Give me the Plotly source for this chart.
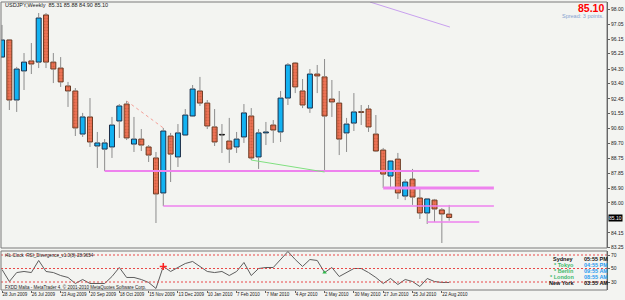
import plotly.graph_objects as go
import pandas as pd

# ---------------- data ----------------
weeks = [d.strftime('%-d %b %Y') for d in pd.date_range('2009-06-28', periods=62, freq='7D')]

opens = [95.04, 96.10, 92.38, 94.18, 94.80, 94.73, 97.65, 94.73, 94.36, 93.25,
         92.94, 90.27, 91.33, 89.53, 89.34, 89.47, 91.08, 92.13, 89.65, 89.96,
         89.47, 88.79, 86.62, 90.15, 88.85, 90.21, 91.39, 92.94, 92.19, 90.71,
         90.21, 89.84, 89.47, 90.09, 91.39, 88.85, 90.34, 90.83, 90.40, 92.50,
         94.67, 92.94, 91.88, 93.99, 93.81, 92.44, 92.19, 90.34, 90.95, 91.64,
         91.82, 90.27, 89.28, 87.67, 88.72, 86.43, 87.48, 86.31, 85.38, 86.18,
         85.57, 85.31]
highs = [97.03, 96.15, 94.43, 95.29, 95.91, 97.77, 97.77, 95.29, 95.04, 93.50,
         93.12, 91.58, 92.50, 90.40, 89.96, 91.33, 92.13, 92.32, 91.33, 90.58,
         89.59, 89.16, 90.65, 90.34, 90.89, 91.82, 93.31, 93.81, 92.38, 91.82,
         90.89, 91.27, 90.40, 92.13, 91.88, 90.58, 91.02, 91.14, 92.94, 94.67,
         94.73, 93.68, 94.30, 94.55, 94.92, 93.62, 92.94, 91.27, 92.81, 92.07,
         92.07, 91.45, 89.41, 88.66, 89.10, 87.48, 88.11, 86.87, 86.31, 86.25,
         85.69, 85.88]
lows = [94.98, 91.76, 91.64, 93.00, 93.99, 94.36, 94.36, 93.43, 93.19, 91.95,
        90.15, 90.09, 89.47, 88.17, 87.98, 88.79, 90.03, 89.90, 89.16, 89.22,
        88.54, 84.76, 85.81, 87.30, 88.23, 90.15, 91.33, 92.01, 90.58, 89.53,
        89.10, 88.48, 89.10, 89.72, 88.66, 88.11, 89.59, 89.72, 89.78, 92.07,
        92.81, 91.88, 91.58, 92.81, 87.92, 91.33, 88.97, 89.16, 90.46, 90.83,
        90.40, 89.16, 86.93, 86.93, 86.25, 86.18, 85.88, 85.01, 84.70, 84.82,
        83.52, 84.90]
closes = [96.10, 92.38, 94.30, 94.73, 94.61, 97.46, 94.73, 94.30, 93.50, 92.94,
          90.65, 91.33, 89.78, 89.72, 89.72, 90.83, 92.01, 90.03, 89.96, 89.59,
          88.97, 86.56, 90.46, 89.03, 90.34, 91.45, 93.06, 92.19, 90.77, 89.78,
          90.21, 89.34, 89.96, 91.58, 88.79, 90.34, 90.40, 90.52, 92.50, 94.55,
          93.19, 92.07, 93.99, 93.87, 91.39, 92.26, 89.96, 90.89, 91.64, 91.61,
          90.71, 89.22, 87.79, 88.60, 86.62, 87.30, 86.37, 85.38, 86.25, 85.63,
          85.32, 85.10]

rsi = [48.5, 30.7, 44.0, 45.6, 44.0, 61.9, 45.6, 44.0, 39.6, 36.7,
       27.8, 33.7, 27.8, 27.8, 27.8, 38.1, 51.5, 36.7, 36.7, 33.7,
       29.3, 20.4, 53.0, 45.6, 51.5, 57.4, 60.4, 53.0, 45.6, 44.0,
       45.6, 39.6, 45.6, 58.9, 39.6, 50.0, 51.5, 51.5, 63.3, 75.2,
       63.3, 53.0, 63.3, 61.9, 44.0, 51.5, 38.1, 44.0, 50.0, 50.0,
       44.0, 36.7, 27.8, 35.2, 26.3, 33.7, 30.7, 23.3, 35.2, 30.7,
       29.3, 29.3]
rsi_levels = [70, 50, 30]
bear_div_bars = [22]
bull_div_bars = [44]

price_ticks = [98.00, 97.05, 96.15, 95.25, 94.30, 93.40, 92.45, 91.55, 90.60,
               89.70, 88.75, 87.85, 86.90, 86.00, 84.15, 83.25]
last_price = 85.10

# horizontal levels (price, start bar, end bar)
h_levels = [87.98, 85.81, 86.93, 84.82]
h_start = [14, 22, 52, 58]
h_end = [65.1, 67.1, 67.1, 65.1]
h_width = [2, 1.5, 3, 1.5]

# trend lines ((bar0, price0), (bar1, price1))
trend_salmon = [(17, 92.32), (22, 90.65)]
trend_green = [(34, 88.66), (44, 87.92)]
trend_violet = [(50.2, 98.45), (61.1, 96.90)]

clock_names = ['Sydney', '* Tokyo', '* Berlin', '* London', 'New York']
clock_times = ['05:55 PM', '04:55 PM', '09:55 AM', '08:55 AM', '03:55 AM']
clock_name_col = ['#101010', '#3CB86A', '#3CB86A', '#3CB86A', '#101010']
clock_time_col = ['#101010', '#2A9BF0', '#2A9BF0', '#2A9BF0', '#101010']

# ---------------- figure ----------------
FONT = 'Liberation Sans'
W, H = 625, 300
ML, MR, MT, MB = 1, 18, 2, 10
PW, PH = W - ML - MR, H - MT - MB


def px_x(x):
    return (x - ML) / PW


def px_y(y):
    return (H - MB - y) / PH


fig = go.Figure()

# wicks (drawn as two segments so they do not cross the bodies)
wx, wy = [], []
for w, o, h, l, c in zip(weeks, opens, highs, lows, closes):
    top, bot = max(o, c), min(o, c)
    wx += [w, w, None, w, w, None]
    wy += [h, top, None, bot, l, None]
fig.add_trace(go.Scatter(x=wx, y=wy, mode='lines', line=dict(color='#8C8C8C', width=1),
                         hoverinfo='skip', showlegend=False, yaxis='y'))

bull_x, bull_b, bull_h = [], [], []
bear_x, bear_b, bear_h = [], [], []
doji_x, doji_b = [], []
for w, o, c in zip(weeks, opens, closes):
    if abs(c - o) < 0.02:
        doji_x.append(w)
        doji_b.append(o)
    elif c > o:
        bull_x.append(w); bull_b.append(o); bull_h.append(max(c - o, 0.05))
    else:
        bear_x.append(w); bear_b.append(c); bear_h.append(max(o - c, 0.05))

fig.add_trace(go.Bar(x=bull_x, y=bull_h, base=bull_b, width=0.68,
                     marker=dict(color='#12B2F2', line=dict(color='#1C2E48', width=1)),
                     showlegend=False, hoverinfo='skip'))
fig.add_trace(go.Bar(x=bear_x, y=bear_h, base=bear_b, width=0.68,
                     marker=dict(color='#EE7455',
                                 pattern=dict(shape='.', fgcolor='#B04A2E', size=3, solidity=0.35),
                                 line=dict(color='#6A3A22', width=1)),
                     showlegend=False, hoverinfo='skip'))
fig.add_trace(go.Bar(x=doji_x, y=[0.04] * len(doji_x), base=doji_b, width=0.68,
                     marker=dict(color='#111111', line=dict(color='#111111', width=1)),
                     showlegend=False, hoverinfo='skip'))

# RSI panel
fig.add_trace(go.Scatter(x=weeks, y=rsi, mode='lines', line=dict(color='#5E5E5E', width=1),
                         yaxis='y2', showlegend=False, hoverinfo='skip'))
fig.add_trace(go.Scatter(x=[weeks[i] for i in bear_div_bars], y=[rsi[i] for i in bear_div_bars],
                         mode='markers', marker=dict(symbol='cross-thin', size=5,
                                                     line=dict(color='#FF2020', width=1.5)),
                         yaxis='y2', showlegend=False, hoverinfo='skip'))
fig.add_trace(go.Scatter(x=[weeks[i] for i in bull_div_bars], y=[rsi[i] for i in bull_div_bars],
                         mode='markers', marker=dict(symbol='triangle-up', size=4, color='#2EB84A'),
                         yaxis='y2', showlegend=False, hoverinfo='skip'))

shapes = []
for p, s, e, lw in zip(h_levels, h_start, h_end, h_width):
    shapes.append(dict(type='line', xref='x', yref='y', x0=s, x1=e, y0=p, y1=p,
                       line=dict(color='#EE82EE', width=lw)))
for (a, b), col, dash in [(trend_salmon, '#F4A098', 'dot'), (trend_green, '#80E080', 'solid'),
                          (trend_violet, '#C8A0EE', 'solid')]:
    shapes.append(dict(type='line', xref='x', yref='y', x0=a[0], y0=a[1], x1=b[0], y1=b[1],
                       line=dict(color=col, width=1, dash=dash)))
for lv in rsi_levels:
    shapes.append(dict(type='line', xref='x domain', yref='y2', x0=0, x1=1, y0=lv, y1=lv,
                       line=dict(color='#E84848', width=1, dash='2px,2px')))
# panel frames
shapes.append(dict(type='rect', xref='x domain', yref='y domain', x0=0, x1=1, y0=0, y1=1,
                   line=dict(color='#7A7A7A', width=1)))
shapes.append(dict(type='rect', xref='x domain', yref='y2 domain', x0=0, x1=1, y0=0, y1=1,
                   line=dict(color='#7A7A7A', width=1)))

ann = []
ann.append(dict(text='USDJPY,Weekly  85.31 85.88 84.90 85.10', xref='paper', yref='paper',
                x=px_x(3), y=px_y(5), xanchor='left', yanchor='middle', showarrow=False,
                font=dict(family=FONT, size=5.5, color='#202020')))
ann.append(dict(text='<b>85.10</b>', xref='paper', yref='paper', x=px_x(606), y=px_y(8),
                xanchor='right', yanchor='middle', showarrow=False,
                font=dict(family=FONT, size=10.5, color='#FF0000')))
ann.append(dict(text='Spread: 3 points.', xref='paper', yref='paper', x=px_x(606), y=px_y(16.5),
                xanchor='right', yanchor='middle', showarrow=False,
                font=dict(family=FONT, size=5.5, color='#86A2D0')))
ann.append(dict(text='%.2f' % last_price, xref='paper', yref='y', x=1, y=last_price, xshift=1,
                xanchor='left', yanchor='middle', showarrow=False, bgcolor='#000000',
                borderpad=0, font=dict(family=FONT, size=5, color='#FFFFFF')))
ann.append(dict(text='i4L-Clock  RSI_Divergence_v1.0(8)-28.9654', xref='paper', yref='paper',
                x=px_x(3), y=px_y(255), xanchor='left', yanchor='middle', showarrow=False,
                font=dict(family=FONT, size=4.5, color='#202020')))
ann.append(dict(text='FXDD Malta - MetaTrader 4, © 2001-2010 MetaQuotes Software Corp.',
                xref='paper', yref='paper', x=px_x(3), y=px_y(287), xanchor='left',
                yanchor='middle', showarrow=False,
                font=dict(family=FONT, size=4.5, color='#202020')))
for k, (n, t, cn, ct) in enumerate(zip(clock_names, clock_times, clock_name_col, clock_time_col)):
    yy = px_y(259 + 6 * k)
    ann.append(dict(text='<b>%s</b>' % n, xref='paper', yref='paper', x=px_x(576), y=yy,
                    xanchor='right', yanchor='middle', showarrow=False,
                    font=dict(family=FONT, size=5.5, color=cn)))
    ann.append(dict(text='<b>%s</b>' % t, xref='paper', yref='paper', x=px_x(582), y=yy,
                    xanchor='left', yanchor='middle', showarrow=False,
                    font=dict(family=FONT, size=5.5, color=ct)))

fig.update_layout(
    width=W, height=H, margin=dict(l=ML, r=MR, t=MT, b=MB, pad=0, autoexpand=False),
    paper_bgcolor='#F3F4F1', plot_bgcolor='#F3F4F1',
    barmode='overlay', showlegend=False, shapes=shapes, annotations=ann,
    font=dict(family=FONT, size=5, color='#202020'),
    xaxis=dict(type='category', anchor='y2', range=[-0.14, 82.53], showgrid=False,
               zeroline=False, tickvals=weeks[::4], ticktext=weeks[::4], tickangle=0,
               automargin=False,
               ticklabelposition='outside right', ticks='outside', ticklen=2,
               tickcolor='#606060', tickfont=dict(family=FONT, size=4.5, color='#202020')),
    yaxis=dict(domain=[px_y(248), 1], range=[83.211, 98.452], side='right', anchor='x',
               showgrid=False, zeroline=False, tickvals=price_ticks, automargin=False,
               ticktext=['%.2f' % v for v in price_ticks], ticks='outside', ticklen=2,
               tickcolor='#606060', showline=True, linecolor='#555555',
               tickfont=dict(family=FONT, size=5, color='#202020')),
    yaxis2=dict(domain=[0, px_y(251)], range=[18.15, 75.93], side='right', anchor='x',
                showgrid=False, zeroline=False, tickvals=rsi_levels, automargin=False,
                ticktext=[str(v) for v in rsi_levels], ticks='outside', ticklen=2,
                tickcolor='#606060', showline=True, linecolor='#555555',
                tickfont=dict(family=FONT, size=5, color='#202020')),
)

fig.write_html('out.html')
